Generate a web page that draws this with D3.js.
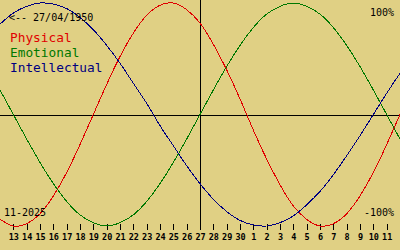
<!DOCTYPE html>
<html>
<head>
<meta charset="utf-8">
<script src="https://cdn.jsdelivr.net/npm/d3@7"></script>
<style>
  html, body { margin: 0; padding: 0; background: #e0d084; }
  svg { display: block; }
  .lbl { font-family: "DejaVu Sans Mono", monospace; }
</style>
</head>
<body>
<svg id="chart" width="400" height="250"></svg>
<script>
// day offsets from the centre day (27), one value per day
const days = d3.range(-15, 16);
// tick labels for offsets -14 .. 14
const tickLabels = [13, 14, 15, 16, 17, 18, 19, 20, 21, 22, 23, 24, 25, 26, 27, 28, 29, 30,
                    1, 2, 3, 4, 5, 6, 7, 8, 9, 10, 11];

// curve values (-1 .. 1)
const physical = [-0.94, -1.00, -0.98, -0.89, -0.73, -0.52, -0.27, 0.00, 0.27, 0.52,
                  0.73, 0.89, 0.98, 1.00, 0.94, 0.82, 0.63, 0.40, 0.14, -0.14,
                  -0.40, -0.63, -0.82, -0.94, -1.00, -0.98, -0.89, -0.73, -0.52, -0.27, 0.00];
const emotional = [0.22, 0.00, -0.22, -0.43, -0.62, -0.78, -0.90, -0.97, -1.00, -0.97,
                   -0.90, -0.78, -0.62, -0.43, -0.22, 0.00, 0.22, 0.43, 0.62, 0.78,
                   0.90, 0.97, 1.00, 0.97, 0.90, 0.78, 0.62, 0.43, 0.22, 0.00, -0.22];
const intellectual = [0.81, 0.91, 0.97, 1.00, 0.99, 0.95, 0.87, 0.76, 0.62, 0.46,
                      0.28, 0.10, -0.10, -0.28, -0.46, -0.62, -0.76, -0.87, -0.95, -0.99,
                      -1.00, -0.97, -0.91, -0.81, -0.69, -0.54, -0.37, -0.19, 0.00, 0.19, 0.37];

const series = [
  {name: "Physical", values: physical, color: "#e00000"},
  {name: "Emotional", values: emotional, color: "#007800"},
  {name: "Intellectual", values: intellectual, color: "#000080"}
];

const svg = d3.select("svg#chart");

let x = d3.scaleLinear().domain([-15, 15]).range([0, 400]);
let y = d3.scaleLinear().domain([-1, 1]).range([226, 3]);

svg.append("rect")
  .attr("width", 400).attr("height", 250)
  .attr("fill", "#e0d084");

// zero line and today line
svg.append("line")
  .attr("x1", 0).attr("x2", 400)
  .attr("y1", Math.round(y(0)) + 0.5).attr("y2", Math.round(y(0)) + 0.5)
  .attr("stroke", "#000").attr("shape-rendering", "crispEdges");

svg.append("line")
  .attr("x1", x(0) + 0.5).attr("x2", x(0) + 0.5)
  .attr("y1", 0).attr("y2", 230)
  .attr("stroke", "#000").attr("shape-rendering", "crispEdges");

// bottom axis: day ticks
let axis = svg.append("g")
  .attr("transform", "translate(0,224)")
  .call(d3.axisBottom(x)
    .tickValues(d3.range(-14, 15))
    .tickSize(6)
    .tickFormat(function(d, i) { return tickLabels[i]; }));

axis.select(".domain").remove();
axis.selectAll(".tick line")
  .attr("stroke", "#000")
  .attr("shape-rendering", "crispEdges");
axis.selectAll(".tick text")
  .attr("font-family", "DejaVu Sans Mono")
  .attr("font-size", "8.5px")
  .attr("font-weight", "bold")
  .attr("fill", "#000")
  .attr("y", 10);

// curves
let line = d3.line()
  .x(function(d, i) { return x(days[i]); })
  .y(function(d) { return y(d); })
  .curve(d3.curveNatural);

svg.append("g").selectAll("path")
  .data(series)
  .enter().append("path")
    .attr("d", function(d) { return line(d.values); })
    .attr("fill", "none")
    .attr("stroke", function(d) { return d.color; })
    .attr("stroke-width", 1)
    .attr("shape-rendering", "crispEdges");

// legend
svg.append("g").selectAll("text")
  .data(series)
  .enter().append("text")
    .attr("class", "lbl")
    .attr("x", 10)
    .attr("y", function(d, i) { return 42 + 15 * i; })
    .attr("font-size", "12.8px")
    .attr("fill", function(d) { return d.color; })
    .text(function(d) { return d.name; });

// corner notes
svg.append("text").attr("class", "lbl")
  .attr("x", 9).attr("y", 21)
  .attr("font-size", "10px").attr("fill", "#000")
  .text("<-- 27/04/1950");

svg.append("text").attr("class", "lbl")
  .attr("x", 394).attr("y", 16)
  .attr("text-anchor", "end")
  .attr("font-size", "10px").attr("fill", "#000")
  .text("100%");

svg.append("text").attr("class", "lbl")
  .attr("x", 394).attr("y", 216)
  .attr("text-anchor", "end")
  .attr("font-size", "10px").attr("fill", "#000")
  .text("-100%");

svg.append("text").attr("class", "lbl")
  .attr("x", 4).attr("y", 216)
  .attr("font-size", "10px").attr("fill", "#000")
  .text("11-2025");
</script>
</body>
</html>
